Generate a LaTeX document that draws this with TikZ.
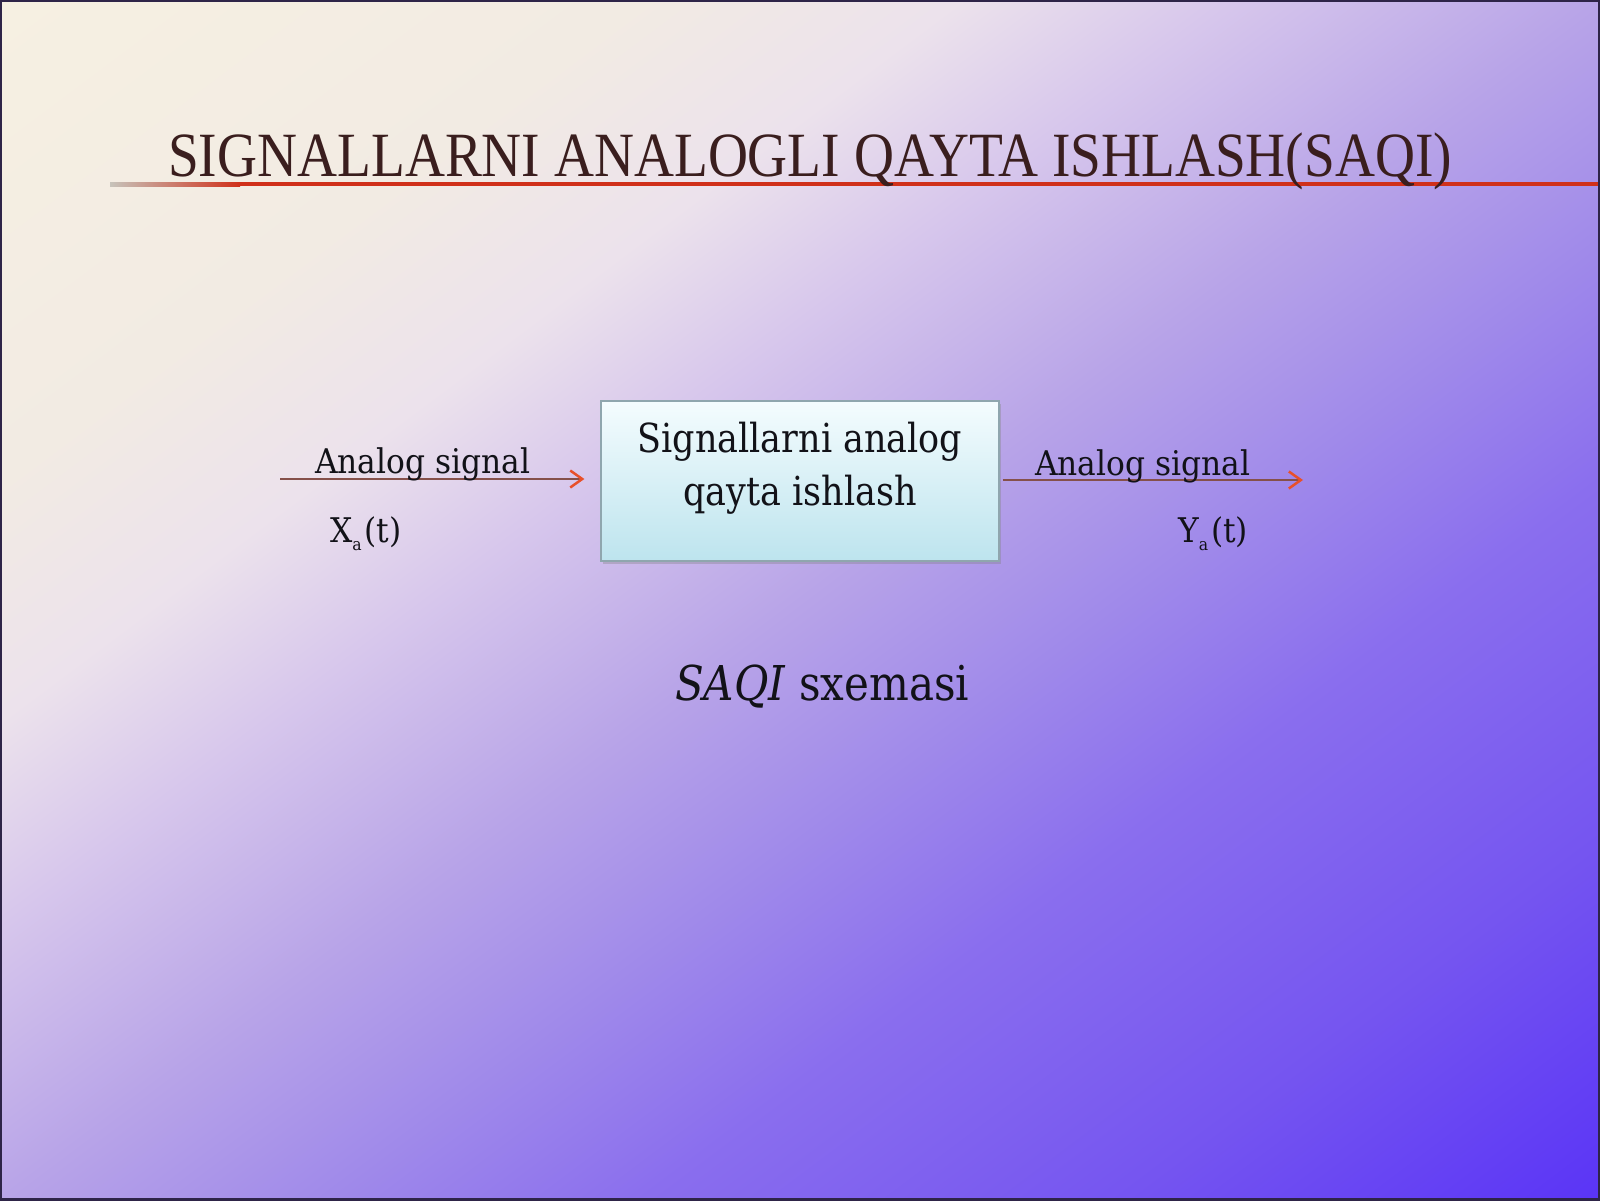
\documentclass[tikz,border=0pt]{standalone}
\usepackage{fontspec}
\setmainfont{DejaVu Serif}[FakeStretch=0.92]
\newfontfamily\boxfont{DejaVu Serif}[FakeStretch=0.875]
\newfontfamily\titlefont{Liberation Serif}
\usetikzlibrary{arrows.meta,shadows}
\definecolor{bga}{HTML}{F6F0E2}
\definecolor{bgb}{HTML}{F2EBE3}
\definecolor{bgc}{HTML}{ECE2EC}
\definecolor{bgd}{HTML}{D8C8EC}
\definecolor{bge}{HTML}{B8A4E8}
\definecolor{bgf}{HTML}{A08AEA}
\definecolor{bgg}{HTML}{8A6EEE}
\definecolor{bgh}{HTML}{7555F0}
\definecolor{bgi}{HTML}{5A34F6}
\definecolor{titlecol}{HTML}{3A1E1E}
\definecolor{rulecol}{HTML}{D0301A}
\definecolor{tipcol}{HTML}{E8502A}
\definecolor{linecol}{HTML}{85504A}
\definecolor{boxtopcol}{HTML}{F4FCFE}
\definecolor{boxbotcol}{HTML}{BDE4EE}
\definecolor{boxlinecol}{HTML}{8FA6AE}
\definecolor{inkcol}{HTML}{121218}
\definecolor{framecol}{HTML}{2E2448}
\pgfdeclarehorizontalshading{slidebg}{100bp}{color(0bp)=(bga); color(25bp)=(bga); color(35bp)=(bgb); color(40bp)=(bgc); color(44bp)=(bgd); color(50bp)=(bge); color(55bp)=(bgf); color(60bp)=(bgg); color(67.5bp)=(bgh); color(75bp)=(bgi); color(100bp)=(bgi)}
\begin{document}
\begin{tikzpicture}[x=1bp,y=-1bp,
  lbl/.style={inner sep=0pt, anchor=base west, text=inkcol, font=\fontsize{34bp}{40bp}\selectfont},
  procbox/.style={draw=boxlinecol, line width=1.2bp, top color=boxtopcol, bottom color=boxbotcol,
    minimum width=398bp, minimum height=160bp, inner sep=0pt, align=center, text=inkcol,
    font=\boxfont\fontsize{40bp}{53bp}\selectfont,
    drop shadow={shadow xshift=1.5bp, shadow yshift=-2.5bp, opacity=0.35}},
  sigline/.style={draw=linecol, line width=2.5bp,
    -{Straight Barb[length=12bp, width=17bp, line width=2.5bp, color=tipcol]}}
]
\useasboundingbox (0,0) rectangle (1600,1200);
\begin{scope}[transform canvas={shift={(800,600)}, rotate=-53.13}]
  \shade[shading=slidebg] (-960,-1000) rectangle (960,1000);
\end{scope}
% title and rule
\shade[left color=gray!40!bga, right color=rulecol] (110,182) rectangle (240,186);
\fill[rulecol] (240,182) rectangle (1600,186);
\node[anchor=base west, inner sep=0pt, text=titlecol] (title) at (168,176)
  {\resizebox{1284bp}{\height}{\titlefont\fontsize{63bp}{70bp}\selectfont SIGNALLARNI ANALOGLI QAYTA ISHLASH(SAQI)}};
% block
\node[procbox] (proc) at (800,481) {Signallarni analog\\qayta ishlash\rule[-35bp]{0pt}{0pt}};
% connectors
\coordinate (inL) at (280,479);
\coordinate (outR) at (1303,480);
\draw[sigline, shorten >=16bp] (inL) -- (proc.west |- inL);
\draw[sigline, shorten <=3bp] (proc.east |- outR) -- (outR);
% labels
\node[lbl] (inlbl) at (315,473) {Analog signal};
\node[lbl] (xa) at (330,542) {X\raisebox{-8bp}{\fontsize{17bp}{17bp}\selectfont a}\hspace{3bp}(t)};
\node[lbl] (outlbl) at (1035,475) {Analog signal};
\node[lbl] (ya) at (1178,542) {Y\raisebox{-8bp}{\fontsize{17bp}{17bp}\selectfont a}\hspace{3bp}(t)};
\node[anchor=base west, inner sep=0pt, text=inkcol, font=\boxfont\fontsize{48bp}{56bp}\selectfont] (capt) at (675,700) {\textit{SAQI} sxemasi};
\draw[framecol, line width=4bp] (0,0) rectangle (1600,1200);
\end{tikzpicture}
\end{document}
